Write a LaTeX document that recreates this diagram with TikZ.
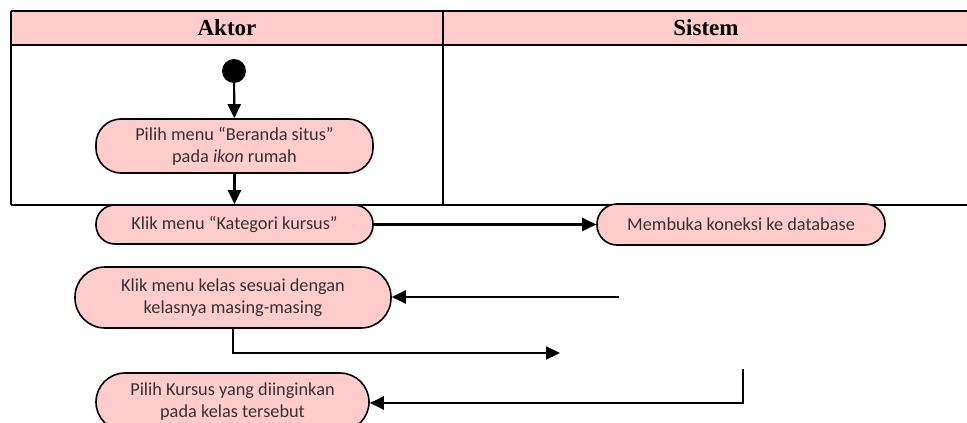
\documentclass[tikz,border=0pt]{standalone}
\usepackage{fontspec}
\setmainfont{Carlito}
\newfontfamily\headfont{Liberation Serif}
\usetikzlibrary{arrows.meta}
\definecolor{lanepink}{HTML}{FFCCCC}
\definecolor{acttext}{HTML}{333333}
\tikzset{
  lane/.style={line width=2pt, draw=black},
  act/.style={draw=black, line width=1.6pt, fill=lanepink, text=acttext,
    font=\fontsize{18.3}{22}\selectfont, align=center, inner sep=0pt},
  flow/.style={line width=2.2pt, -{Triangle[length=14pt,width=13pt]}},
  heading/.style={font=\headfont\bfseries\fontsize{23}{26}\selectfont}
}
\begin{document}
\begin{tikzpicture}[x=1pt,y=-1pt]
\useasboundingbox (0,0) rectangle (967,423);
% swimlane frame
\fill[lanepink] (11,11) rectangle (967,45);
\draw[line width=1.5pt] (11,11) -- (967,11);
\draw[lane] (11,45) -- (967,45);
\draw[lane] (11,11) -- (11,205);
\draw[lane] (443,11) -- (443,205);
\draw[lane] (11,205) -- (967,205);
\node[heading] (hA) at (227,28) {Aktor};
\node[heading] (hS) at (706,28) {Sistem};
% start
\node[circle, fill=black, minimum size=24pt, inner sep=0pt] (start) at (234,71) {};
% activities
\node[act, rounded corners=25pt, minimum width=277pt, minimum height=54pt] (a1) at (234.5,146) {Pilih menu “Beranda situs”\\pada \textit{ikon} rumah};
\node[act, rounded corners=19pt, minimum width=277pt, minimum height=39pt] (a2) at (234.5,224.5) {Klik menu “Kategori kursus”};
\node[act, rounded corners=20pt, minimum width=288pt, minimum height=41pt] (s1) at (741,224.5) {Membuka koneksi ke database};
\node[act, rounded corners=30pt, minimum width=316pt, minimum height=61pt] (a3) at (233,297.5) {Klik menu kelas sesuai dengan\\kelasnya masing-masing};
\node[act, rounded corners=29pt, minimum width=273pt, minimum height=58pt] (a4) at (232.5,402) {Pilih Kursus yang diinginkan\\pada kelas tersebut};
% loose ends of the flows
\coordinate (e1) at (619,297);
\coordinate (e2) at (560,353);
\coordinate (e3) at (743,369);
% flows
\draw[flow] (start) -- (a1);
\draw[flow] (a1) -- (a2);
\draw[flow] (a2.east) -- (a2.east -| s1.west);
\draw[flow] (e1) -- (a3.east |- e1);
\draw[flow] (a3.south) |- (e2);
\draw[flow] (e3) |- (a4.east |- 0,403);
\end{tikzpicture}
\end{document}
